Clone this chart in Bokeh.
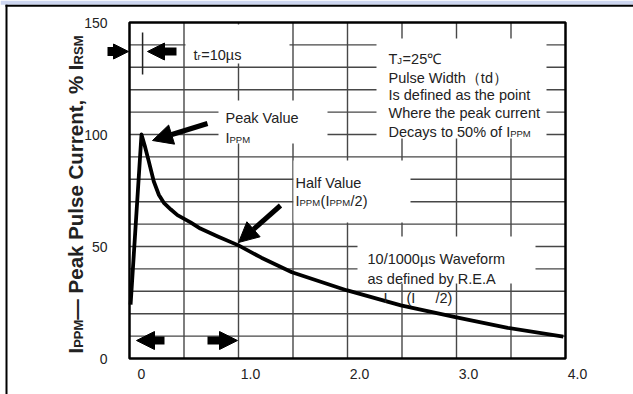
from math import pi
from bokeh.plotting import figure
from bokeh.models import Range1d, FixedTicker, BoxAnnotation, Label, Arrow, NormalHead
from bokeh.embed import file_html
from bokeh.resources import INLINE

# ---------------- data ----------------
time_ms = [-0.10, 0.0, 0.03, 0.067, 0.113, 0.16, 0.205, 0.27, 0.33, 0.45, 0.54, 0.70, 0.89,
           1.10, 1.38, 1.88, 2.38, 2.89, 3.36, 3.87]
current_pct = [24, 100, 95, 88, 79, 73, 69.5, 66.5, 64, 60.8, 58, 54.5, 50.5,
               45, 38.5, 30.5, 23.7, 18.4, 13.7, 9.8]
x_tick_values = [0, 1, 2, 3, 4]
x_tick_labels = ["0", "1.0", "2.0", "3.0", "4.0"]
y_tick_values = [0, 50, 100, 150]
rise_time_ms = 0.01

# ---------------- layout helpers (page pixel -> data) ----------------
X0 = -0.11          # left edge of the graph box (ms)
PX_PER_MS = 109.0
PX_PER_PCT = 2.24
W, H = 633, 394

def X(px):
    return X0 + (px - 129) / PX_PER_MS

def Y(py):
    return (358 - py) / PX_PER_PCT

FONT = "Liberation Sans"
TXT = "#222222"

# plot area covers the whole canvas; axes are drawn at fixed locations
p = figure(width=W, height=H, output_backend="svg", toolbar_location=None,
           x_range=Range1d(X(0), X(W)), y_range=Range1d(Y(H), Y(0)), min_border=0)
p.outline_line_color = None
p.background_fill_color = "white"
p.border_fill_color = "white"
p.grid.visible = False

p.xaxis.ticker = FixedTicker(ticks=x_tick_values)
p.xaxis.major_label_overrides = {v: s for v, s in zip(x_tick_values, x_tick_labels)}
p.xaxis.fixed_location = 0
p.yaxis.ticker = FixedTicker(ticks=y_tick_values)
p.yaxis.fixed_location = X0
for ax in (p.xaxis[0], p.yaxis[0]):
    ax.axis_line_color = None
    ax.major_tick_line_color = None
    ax.minor_tick_line_color = None
    ax.major_tick_out = 0
    ax.major_tick_in = 0
    ax.major_label_text_font = FONT
    ax.major_label_text_font_size = "14px"
    ax.major_label_text_color = TXT
p.xaxis.major_label_standoff = 10
p.yaxis.major_label_standoff = 22

# page decoration: blue band and black border
p.add_layout(BoxAnnotation(left=X(0), right=X(W), top=Y(0), bottom=Y(4.3),
                           fill_color="#cdd6f0", fill_alpha=1, line_color=None, level="underlay"))
p.add_layout(BoxAnnotation(left=X(5), right=X(W), top=Y(4.3), bottom=Y(6.3),
                           fill_color="black", fill_alpha=1, line_color=None, level="underlay"))
p.add_layout(BoxAnnotation(left=X(5), right=X(7), top=Y(4.3), bottom=Y(H),
                           fill_color="black", fill_alpha=1, line_color=None, level="underlay"))

# grid of the graph box: 8 vertical and 15 horizontal divisions
vgrid = [X0 + 0.5 * k for k in range(1, 8)]
hgrid = [10 * k for k in range(1, 15)]
GRID = dict(line_color="#474747", line_width=1.4)
p.segment(x0=vgrid, x1=vgrid, y0=[0] * len(vgrid), y1=[150] * len(vgrid), **GRID)
p.segment(x0=[X0] * len(hgrid), x1=[X0 + 4] * len(hgrid), y0=hgrid, y1=hgrid, **GRID)

# white backgrounds of the text blocks (page px: left, right, top, bottom)
boxes = [(185, 289, 24, 63), (376, 546, 38, 138), (218, 327, 100, 143),
         (293, 410, 160, 222), (357, 535, 236, 283)]
p.quad(left=[X(b[0]) for b in boxes], right=[X(b[1]) for b in boxes],
       top=[Y(b[2]) for b in boxes], bottom=[Y(b[3]) for b in boxes],
       fill_color="white", line_color=None)

p.line(time_ms, current_pct, line_width=3.8, line_color="black", line_join="round")

p.add_layout(BoxAnnotation(left=X0, right=X0 + 4, bottom=0, top=150, fill_color=None,
                           fill_alpha=0, line_color="black", line_alpha=1, line_width=2.5))

def arrow(x1, y1, x2, y2, size, lw):
    p.add_layout(Arrow(x_start=X(x1), y_start=Y(y1), x_end=X(x2), y_end=Y(y2),
                       line_width=lw, line_color="black",
                       end=NormalHead(size=size, fill_color="black", line_color="black", line_width=1)))

arrow(107, 51, 128, 51, 15, 9)
arrow(176, 51, 147, 51, 17, 8)
arrow(207, 123, 152, 140, 20, 5)
arrow(280, 205, 238, 242, 20, 5)
arrow(164, 340, 136, 340, 18, 8)
arrow(207, 340, 237, 340, 18, 8)

p.add_layout(Arrow(x_start=rise_time_ms, y_start=Y(32), x_end=rise_time_ms, y_end=Y(74),
                   start=None, end=None, line_width=1.5, line_color="#222222"))

# approximate Arial advance widths (em/1000) for placing subscripts
AW = {c: 556 for c in "0123456789abdeghnopquµ"}
AW.update({" ": 278, "%": 889, "(": 333, ")": 333, ",": 278, ".": 278, "/": 278, "=": 584,
           "I": 278, "J": 500, "P": 667, "M": 833, "T": 611, "D": 722, "R": 722, "E": 667,
           "A": 667, "c": 500, "k": 500, "s": 500, "v": 500, "y": 500, "z": 500, "x": 500,
           "f": 278, "t": 278, "i": 222, "l": 222, "j": 222, "r": 333, "m": 833, "w": 722,
           "H": 722, "V": 667, "W": 944, "℃": 1000})

def width(s, size):
    return sum(AW.get(c, 556) for c in s) * size / 1000.0

def txt(px, base_py, s, size=14.5, angle=0.0, bold=False):
    p.add_layout(Label(x=X(px), y=Y(base_py), text=s, text_font=FONT, text_font_size=f"{size}px",
                       text_color=TXT, text_baseline="alphabetic", text_align="left",
                       angle=angle, text_font_style="bold" if bold else "normal"))

def run(px, base_py, parts):
    for s, sub in parts:
        size = 9.5 if sub else 14.5
        txt(px, base_py + (2 if sub else 0), s, size)
        px += width(s, size) + (0.5 if sub else 0)

run(193, 54, [("t", 0), ("r", 1), ("=10µs", 0)])
txt(225, 117, "Peak Value")
run(225, 137, [("I", 0), ("PPM", 1)])
txt(295, 182, "Half Value")
run(295, 200, [("I", 0), ("PPM", 1), ("(I", 0), ("PPM", 1), ("/2)", 0)])
run(388, 58, [("T", 0), ("J", 1), ("=25℃", 0)])
txt(388, 77, "Pulse Width（td）")
txt(388, 94, "Is defined as the point")
txt(388, 112, "Where the peak current")
run(388, 131, [("Decays to 50% of I", 0), ("PPM", 1)])
txt(367, 258, "10/1000µs Waveform")
txt(367, 278, "as defined by R.E.A")
txt(383, 297, "I")
txt(406, 297, "(I")
txt(435, 297, "/2)")

# rotated y-axis title: I_PPM— Peak Pulse Current, % I_RSM
F, f = 20.5, 13
y0 = 353
parts = [("I", F, 0.278 * F, 75), ("PPM", f, 2.167 * f, 78),
         ("— Peak Pulse Current, % I", F, 12.449 * F, 75), ("RSM", f, 2.056 * f, 78)]
for s, size, w, base_px in parts:
    txt(base_px, y0, s, size=size, angle=pi / 2, bold=True)
    y0 -= w

open("out.html", "w").write(file_html(p, INLINE))
